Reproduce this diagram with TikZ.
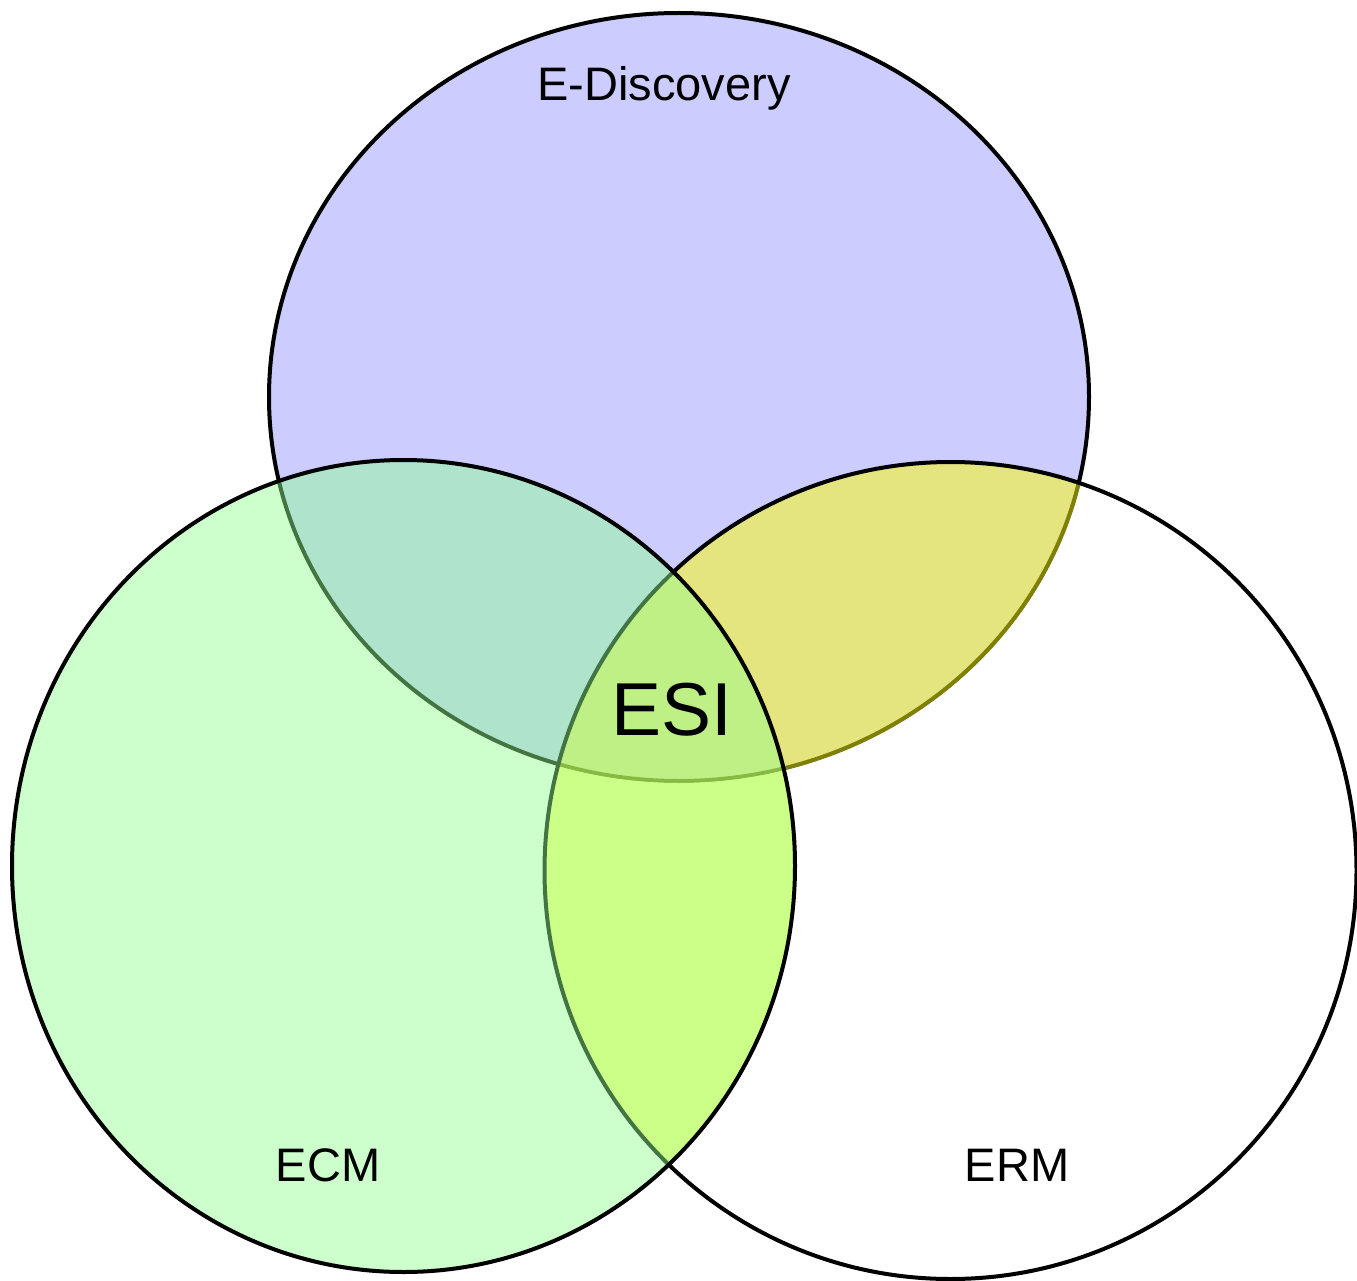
\documentclass[tikz,border=0pt]{standalone}
\usepackage{fontspec}
\setmainfont{Liberation Sans}
\definecolor{discblue}{RGB}{204,204,255}
\definecolor{ecmgreen}{RGB}{144,255,144}
\definecolor{ermveil}{RGB}{255,255,0}
\definecolor{ermpale}{RGB}{255,255,128}
\begin{document}
\begin{tikzpicture}[x=1pt,y=-1pt,
  rim/.style={draw=black, line width=4pt},
  lbl/.style={font=\fontsize{47}{56}\selectfont, inner sep=0pt, text=black}]
\useasboundingbox (0,0) rectangle (1357,1281);

\coordinate (cT) at (679,397);
\coordinate (cL) at (403.5,866);
\coordinate (cR) at (950.5,870.5);

% E-Discovery disc
\fill[discblue] (cT) ellipse [x radius=410, y radius=384];
\draw[rim] (cT) ellipse [x radius=410, y radius=384];

% ERM disc: yellow veil where it lies over the other two discs
\begin{scope}
  \clip (cR) ellipse [x radius=406, y radius=408.5];
  \fill[ermveil, opacity=0.5] (cT) ellipse [x radius=412, y radius=386];
\end{scope}
\begin{scope}
  \clip (cR) ellipse [x radius=406, y radius=408.5];
  \clip (cL) ellipse [x radius=391.5, y radius=406];
  \fill[ermpale, even odd rule] (cL) ellipse [x radius=391.5, y radius=406]
                                (cT) ellipse [x radius=412, y radius=386];
\end{scope}
\draw[rim] (cR) ellipse [x radius=406, y radius=408.5];

% ECM disc, translucent green on top
\fill[ecmgreen, opacity=0.46] (cL) ellipse [x radius=391.5, y radius=406];
\draw[rim] (cL) ellipse [x radius=391.5, y radius=406];

% labels
\node[lbl] (disc) at (664,88) {E-Discovery};
\node[lbl] (ecm) at (328,1165) {ECM};
\node[lbl] (erm) at (1017,1165) {ERM};
\node[lbl, font=\fontsize{75}{90}\selectfont] (esi) at (672,710) {ESI};
\end{tikzpicture}
\end{document}
